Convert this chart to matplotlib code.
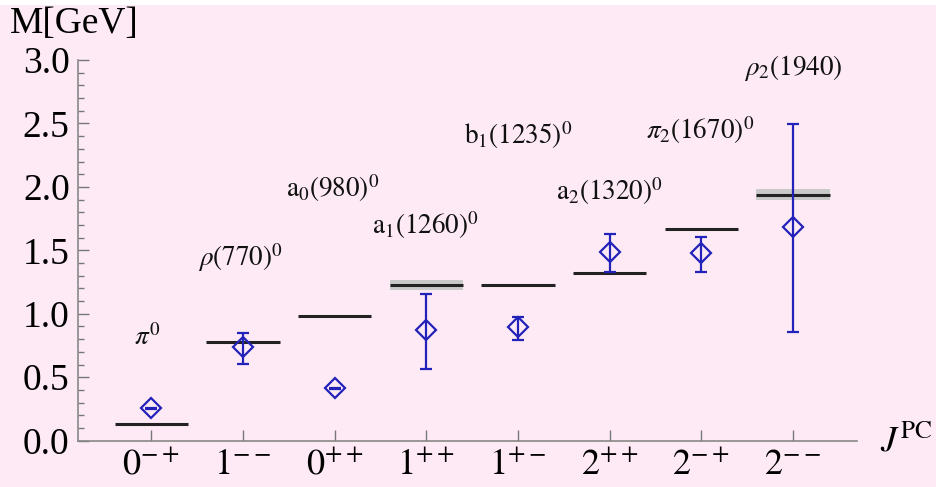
import matplotlib
matplotlib.use("Agg")
import matplotlib.pyplot as plt
from matplotlib.ticker import MultipleLocator, FormatStrFormatter
import numpy as np

plt.rcParams['font.family'] = ['Liberation Serif', 'DejaVu Serif']
plt.rcParams['mathtext.fontset'] = 'stix'

# J^PC channels
channels = [r'$0^{-+}$', r'$1^{--}$', r'$0^{++}$', r'$1^{++}$',
            r'$1^{+-}$', r'$2^{++}$', r'$2^{-+}$', r'$2^{--}$']

# Experimental masses (GeV) and their uncertainty bands
exp_mass = [0.135, 0.775, 0.980, 1.230, 1.230, 1.318, 1.672, 1.940]
exp_band = [0.0, 0.0, 0.0, 0.04, 0.0, 0.0, 0.0, 0.04]

# Lattice results (GeV) with asymmetric errors
lat_mass = [0.255, 0.740, 0.413, 0.870, 0.894, 1.489, 1.477, 1.687]
lat_err_hi = [0.006, 0.105, 0.006, 0.284, 0.083, 0.140, 0.126, 0.809]
lat_err_lo = [0.006, 0.135, 0.006, 0.305, 0.100, 0.162, 0.150, 0.833]

# State names and label heights (GeV)
state_names = [r'$\pi^0$', r'$\rho(770)^0$', r'$\mathrm{a}_0(980)^0$',
               r'$\mathrm{a}_1(1260)^0$', r'$\mathrm{b}_1(1235)^0$',
               r'$\mathrm{a}_2(1320)^0$', r'$\pi_2(1670)^0$', r'$\rho_2(1940)$']
label_y = [0.81, 1.44, 1.99, 1.70, 2.41, 1.97, 2.45, 2.94]
label_dx = [-0.04, -0.03, -0.02, -0.01, 0.0, 0.0, -0.01, 0.0]

bg = '#fdeaf5'
blue = '#2222bb'
W, H = 936, 487
fig = plt.figure(figsize=(W / 100, H / 100), dpi=100, facecolor=bg)
fig.patches.append(plt.Rectangle((0, 1 - 5 / H), 1, 5 / H, transform=fig.transFigure,
                                 facecolor='white', edgecolor='none'))
ax = fig.add_axes([78 / W, 46.3 / H, (857 - 78) / W, (440.7 - 60) / H])
ax.set_facecolor(bg)

x = np.arange(1, len(channels) + 1)
half = 0.4

for xi, m, b in zip(x, exp_mass, exp_band):
    if b > 0:
        ax.fill_between([xi - half, xi + half], m - b, m + b,
                        color='#c9c9c9', lw=0, zorder=1)
    ax.hlines(m, xi - half, xi + half, color='#222222', lw=2.2, zorder=2)

ax.errorbar(x, lat_mass, yerr=[lat_err_lo, lat_err_hi], fmt='D', ms=10,
            mfc='none', mec=blue, mew=1.6, color=blue, ecolor=blue,
            elinewidth=1.6, capsize=4, capthick=1.6, zorder=3)

for xi, dx, yl, name in zip(x, label_dx, label_y, state_names):
    ax.text(xi + dx, yl, name, ha='center', va='center', fontsize=19.5, color='#111111')

ax.set_xlim(0.2, 8.7)
ax.set_ylim(0, 3.0)
ax.set_xticks(x)
ax.set_xticklabels(channels, fontsize=26)
ax.yaxis.set_major_locator(MultipleLocator(0.5))
ax.yaxis.set_minor_locator(MultipleLocator(0.1))
ax.yaxis.set_major_formatter(FormatStrFormatter('%.1f'))

for s in ['top', 'right']:
    ax.spines[s].set_visible(False)
for s in ['left', 'bottom']:
    ax.spines[s].set_color('#888888')
    ax.spines[s].set_linewidth(1.2)

ax.tick_params(axis='both', which='both', direction='in', colors='#777777',
               labelcolor='black')
ax.tick_params(axis='y', which='major', length=8, width=1, pad=6, labelsize=27)
ax.tick_params(axis='y', which='minor', length=4, width=1)
ax.tick_params(axis='x', which='major', length=8, width=1, pad=6)

fig.text(10 / W, 1 - 7 / H, 'M[GeV]', ha='left', va='top', fontsize=27)
fig.text(880 / W, 1 - 452 / H, r'$J^{\mathrm{PC}}$', ha='left', va='baseline', fontsize=26)

fig.savefig('out.png', dpi=100, facecolor=bg)
